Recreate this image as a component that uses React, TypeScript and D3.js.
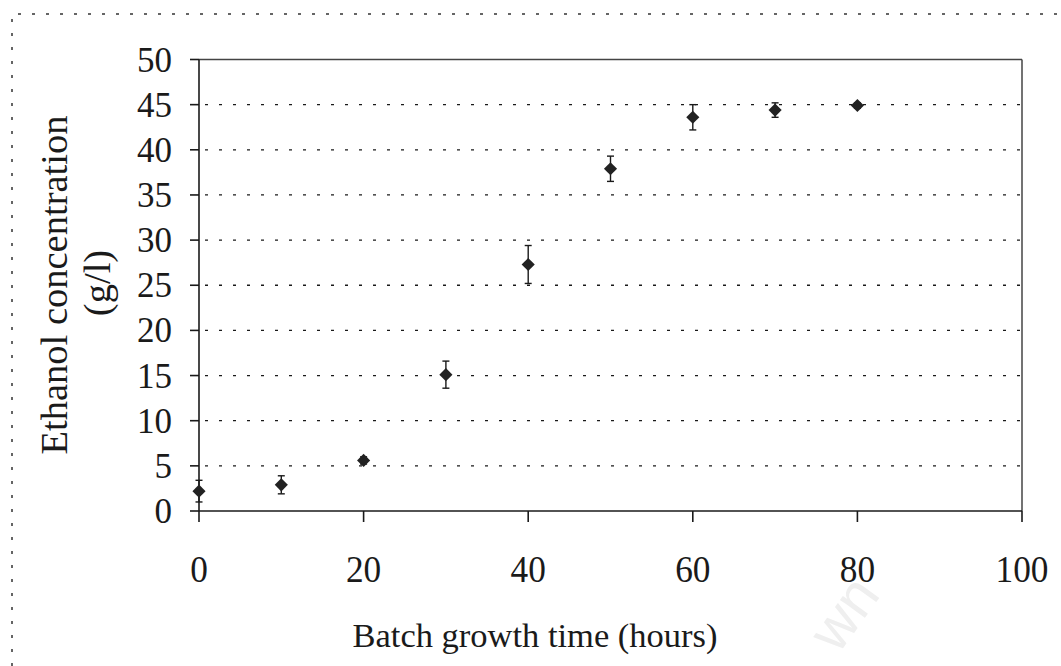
import * as d3 from "d3";

// batch fermentation: ethanol over time, mean +/- error
const hours = [0, 10, 20, 30, 40, 50, 60, 70, 80];
const ethanol = [2.2, 2.9, 5.6, 15.1, 27.3, 37.9, 43.6, 44.4, 44.9];
const errors = [1.2, 1.0, 0.4, 1.5, 2.1, 1.4, 1.4, 0.8, 0.3];

const xTicks = [0, 20, 40, 60, 80, 100];
const yTicks = [0, 5, 10, 15, 20, 25, 30, 35, 40, 45, 50];

const xTitle = "Batch growth time (hours)";
const yTitle = ["Ethanol concentration", "(g/l)"];

const width = 1061;
const height = 666;
const marginTop = 59.5;
const marginRight = 39;
const marginBottom = 155;
const marginLeft = 199;

const font = '"Liberation Serif", Tinos, "Times New Roman", Times, serif';
const ink = "#1a1a1a";

export default function App() {
  const x = d3
    .scaleLinear()
    .domain([0, 100])
    .range([marginLeft, width - marginRight]);
  const y = d3
    .scaleLinear()
    .domain([0, 50])
    .range([height - marginBottom, marginTop]);

  const points = hours.map((h, i) => ({ h, v: ethanol[i], e: errors[i] }));
  const diamond = d3.symbol(d3.symbolDiamond2, 110);

  const x0 = x(0);
  const x1 = x(100);
  const y0 = y(0);
  const y1 = y(50);

  return (
    <svg
      width={width}
      height={height}
      style={{ position: "absolute", left: 0, top: 0, background: "#fff", fontFamily: font }}
    >
      {/* scanned page border */}
      <path
        d={`M12,${height} L12,14 L${width},14`}
        fill="none"
        stroke="#333"
        strokeWidth={1.5}
        strokeDasharray="3 11"
      />

      {/* grid lines */}
      <g stroke={ink} strokeWidth={1.3} strokeDasharray="3 11">
        {yTicks
          .filter((t) => t > 0 && t < 50)
          .map((t) => (
            <line key={t} x1={x0 + 6} x2={x1} y1={y(t)} y2={y(t)} />
          ))}
      </g>

      {/* frame */}
      <g stroke="#444" strokeWidth={1.5} fill="none">
        <line x1={x0} x2={x1} y1={y1} y2={y1} />
        <line x1={x1} x2={x1} y1={y1} y2={y0} />
      </g>
      <g stroke={ink} strokeWidth={1.6}>
        <line x1={x0} x2={x0} y1={y1} y2={y0} />
        <line x1={x0} x2={x1} y1={y0} y2={y0} />
        {yTicks.map((t) => (
          <line key={t} x1={x0 - 9} x2={x0} y1={y(t)} y2={y(t)} />
        ))}
        {xTicks.map((t) => (
          <line key={t} x1={x(t)} x2={x(t)} y1={y0} y2={y0 + 11} />
        ))}
      </g>

      {/* tick labels */}
      <g fill={ink}>
        {yTicks.map((t) => (
          <text
            key={t}
            fontSize={35}
            x={x0 - 27}
            y={y(t) + 12}
            textAnchor="end"
          >
            {t}
          </text>
        ))}
        {xTicks.map((t) => (
          <text
            key={t}
            fontSize={38}
            transform={`translate(${x(t)},${y0 + 71}) scale(0.93,1)`}
            textAnchor="middle"
          >
            {t}
          </text>
        ))}
      </g>

      {/* axis titles */}
      <text fill={ink} fontSize={34.5} textAnchor="middle" x={535} y={y0 + 136}>
        {xTitle}
      </text>
      <g fill={ink} fontSize={38.5} textAnchor="middle">
        <text transform="translate(67,285) rotate(-90)">{yTitle[0]}</text>
        <text transform="translate(110,283) rotate(-90)">{yTitle[1]}</text>
      </g>

      {/* error bars */}
      <g stroke={ink} strokeWidth={1.4}>
        {points.map((d) => (
          <g key={d.h}>
            <line x1={x(d.h)} x2={x(d.h)} y1={y(d.v + d.e)} y2={y(d.v - d.e)} />
            <line x1={x(d.h) - 3.5} x2={x(d.h) + 3.5} y1={y(d.v + d.e)} y2={y(d.v + d.e)} />
            <line x1={x(d.h) - 3.5} x2={x(d.h) + 3.5} y1={y(d.v - d.e)} y2={y(d.v - d.e)} />
          </g>
        ))}
      </g>

      {/* markers */}
      <g fill="#222">
        {points.map((d) => (
          <path
            key={d.h}
            d={diamond() || ""}
            transform={`translate(${x(d.h)},${y(d.v)})`}
          />
        ))}
      </g>

      {/* faint scan watermark */}
      <text
        fill="#efefef"
        fontSize={58}
        fontFamily="'Liberation Sans', sans-serif"
        transform="translate(838,655) rotate(-54)"
      >
        wn
      </text>
    </svg>
  );
}
